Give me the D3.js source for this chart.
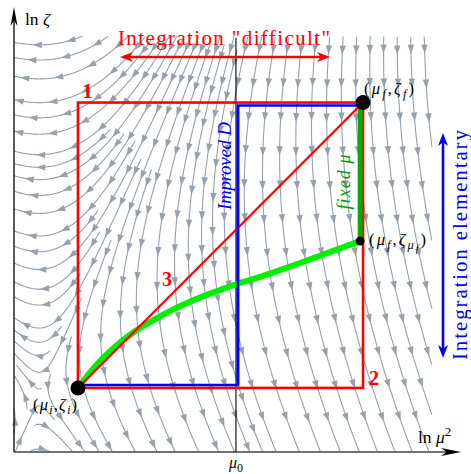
<!DOCTYPE html>
<html><head><meta charset="utf-8">
<script src="https://cdn.jsdelivr.net/npm/d3@7"></script>
<style>body{margin:0;background:#fff}svg{display:block}</style>
</head><body><svg id="c" width="471" height="474"></svg>
<script>
// ---------- data (plot units: x = ln μ², y = ln ζ) ----------
const xDomain = [0, 10];
const yDomain = [0, 10];
const muI = 1.53, zetaI = 1.54;          // (μi, ζi)
const muF = 8.35, zetaF = 8.40;          // (μf, ζf)
const muFixed = 8.28, zetaMuF = 5.07;    // (μf, ζμf)
const mu0 = 5.31;                        // μ0 tick
const greenX = [1.53, 1.82, 2.06, 2.30, 2.54, 2.89, 3.33, 3.73, 4.14, 4.57, 4.93, 5.31, 5.65, 6.24, 6.84, 7.56, 8.28];
const greenY = [1.54, 1.92, 2.19, 2.43, 2.64, 2.91, 3.17, 3.39, 3.58, 3.77, 3.89, 4.04, 4.13, 4.33, 4.54, 4.81, 5.07];
// vector field (γF/2 , −D) estimated from the stream picture
const fieldA = 0.33, fieldB = 0.73, fieldX0 = 0.6;
const regionNames = ["1", "2", "3"];
const regionAnchorX = [muI, muF, 3.66];
const regionAnchorY = [zetaF, zetaI, 4.0];
const xTickLabel = "μ0";

// ---------- setup ----------
const svg = d3.select("#c");
const x = d3.scaleLinear().domain(xDomain).range([14, 432]);
const y = d3.scaleLinear().domain(yDomain).range([452, 36]);
const SERIF = "'Liberation Serif','Times New Roman',serif";
const streamCol = "#95a1ad";

// ---------- streamlines ----------
const X0 = x.range()[0], X1 = x.range()[1], Y0 = y.range()[1], Y1 = y.range()[0];
const kx = x(1) - x(0), ky = y(1) - y(0);
function dir(px, py) {
  const X = x.invert(px), Y = y.invert(py);
  const vx = fieldA * (X - Y + fieldB) * kx;
  const vy = -(X - fieldX0) * ky;
  const m = Math.hypot(vx, vy);
  if (m < 1e-4) return null;
  return [vx / m, vy / m];
}
const dsep = 13.5, dtest = 6.5, h = 1;
const cols = Math.ceil((X1 - X0) / dsep) + 2, rows = Math.ceil((Y1 - Y0) / dsep) + 2;
const grid = Array.from({length: cols * rows}, () => []);
function cellOf(px, py) { return [Math.floor((px - X0) / dsep), Math.floor((py - Y0) / dsep)]; }
function free(px, py, d) {
  const [cx, cy] = cellOf(px, py);
  for (let i = cx - 1; i <= cx + 1; i++) for (let j = cy - 1; j <= cy + 1; j++) {
    if (i < 0 || j < 0 || i >= cols || j >= rows) continue;
    for (const p of grid[j * cols + i]) if (Math.hypot(p[0] - px, p[1] - py) < d) return false;
  }
  return true;
}
function inside(px, py) { return px >= X0 && px <= X1 && py >= Y0 && py <= Y1; }
function traceHalf(sx, sy, s) {
  const out = []; let p = [sx, sy];
  for (let k = 0; k < 3000; k++) {
    const k1 = dir(p[0], p[1]); if (!k1) break;
    const m = [p[0] + s * h / 2 * k1[0], p[1] + s * h / 2 * k1[1]];
    const k2 = dir(m[0], m[1]); if (!k2) break;
    const np = [p[0] + s * h * k2[0], p[1] + s * h * k2[1]];
    if (!inside(np[0], np[1])) break;
    if (!free(np[0], np[1], dtest)) break;
    out.push(np); p = np;
  }
  return out;
}
const lines = [];
const queue = [];
function tryLine(sx, sy, d) {
  if (!inside(sx, sy) || !free(sx, sy, d)) return;
  const f = traceHalf(sx, sy, 1), b = traceHalf(sx, sy, -1);
  const L = b.reverse().concat([[sx, sy]], f);
  if (L.length < 12) return;
  lines.push(L); queue.push(L);
  for (const p of L) { const [cx, cy] = cellOf(p[0], p[1]); grid[cy * cols + cx].push(p); }
}
tryLine(300, 220, dsep);
function drain() {
  while (queue.length) {
    const L = queue.shift();
    for (let i = 0; i < L.length; i += 3) {
      const a = L[Math.max(0, i - 1)], b = L[Math.min(L.length - 1, i + 1)];
      let tx = b[0] - a[0], ty = b[1] - a[1]; const m = Math.hypot(tx, ty) || 1; tx /= m; ty /= m;
      for (const s of [1, -1]) tryLine(L[i][0] - s * ty * dsep, L[i][1] + s * tx * dsep, dsep * 0.98);
    }
  }
}
drain();
for (let gy = Y0 + 3; gy < Y1; gy += dsep / 2) for (let gx = X0 + 3; gx < X1; gx += dsep / 2) { tryLine(gx, gy, dsep * 0.9); drain(); }

const gStream = svg.append("g");
gStream.selectAll("path.sl").data(lines).join("path")
  .attr("d", d3.line()).attr("fill", "none").attr("stroke", streamCol).attr("stroke-width", 1.1);
const arrows = [];
const spacing = 34;
lines.forEach(L => {
  let acc = 0, next = 17;
  for (let i = 1; i < L.length; i++) {
    acc += Math.hypot(L[i][0] - L[i-1][0], L[i][1] - L[i-1][1]);
    if (acc >= next) {
      const a = L[Math.max(0, i - 3)], b = L[i];
      let tx = b[0] - a[0], ty = b[1] - a[1]; const m = Math.hypot(tx, ty) || 1;
      arrows.push({p: b, t: [tx / m, ty / m]}); next += spacing;
    }
  }
});
gStream.selectAll("path.ah").data(arrows).join("path")
  .attr("fill", streamCol)
  .attr("d", d => {
    const [px, py] = d.p, [tx, ty] = d.t, L = 9, w = 3.2;
    const bx = px - tx * L, by = py - ty * L;
    return `M${px},${py}L${bx - ty * w},${by + tx * w}L${bx + ty * w},${by - tx * w}Z`;
  });

// ---------- axes ----------
function stealth(g, tipX, tipY, ang, L, w, col) {
  g.append("path").attr("fill", col)
    .attr("transform", `translate(${tipX},${tipY}) rotate(${ang})`)
    .attr("d", `M0,0L${-L},${-w}L${-L * 0.72},0L${-L},${w}Z`);
}
const gAx = svg.append("g");
gAx.append("line").attr("x1", x(0)).attr("y1", y(0)).attr("x2", 456).attr("y2", y(0)).attr("stroke", "#444").attr("stroke-width", 1.4);
stealth(gAx, 461, y(0), 0, 20, 4, "#000");
gAx.append("line").attr("x1", x(0)).attr("y1", y(0)).attr("x2", x(0)).attr("y2", 12).attr("stroke", "#000").attr("stroke-width", 1.3);
stealth(gAx, x(0), 7, -90, 19, 3.5, "#000");
gAx.append("line").attr("x1", x(mu0)).attr("x2", x(mu0)).attr("y1", y(0)).attr("y2", 38).attr("stroke", "#000").attr("stroke-width", 1.1);

// rich text helper: segs = [text, italic, level] (level 1 sub, 2 subsub, -1 sup)
function rich(g, segs, px, py, size, col, extra) {
  const t = g.append("text").attr("x", px).attr("y", py).attr("font-family", SERIF)
    .attr("font-size", size).attr("fill", col);
  if (extra) extra(t);
  let cur = 0;
  const offs = {0: 0, 1: size * 0.25, 2: size * 0.42, "-1": -size * 0.4};
  segs.forEach(s => {
    const lv = s[2] || 0, target = offs[lv];
    t.append("tspan").text(s[0]).attr("dy", target - cur)
      .attr("font-style", s[1] ? "italic" : "normal")
      .attr("font-size", lv === 0 ? size : size * (lv === 2 ? 0.6 : 0.75));
    cur = target;
  });
  return t;
}
rich(gAx, [["ln ", 0], ["ζ", 1]], 25, 25, 17.5, "#000");
rich(gAx, [["ln ", 0], ["μ", 1], ["2", 0, -1]], 418, 443, 17.5, "#000");
rich(gAx, [[xTickLabel[0], 1], [xTickLabel.slice(1), 0, 1]], x(mu0) - 7, 468, 16, "#000");

// ---------- paths ----------
const gP = svg.append("g");
gP.append("rect").attr("x", x(muI)).attr("y", y(zetaF)).attr("width", x(muF) - x(muI)).attr("height", y(zetaI) - y(zetaF))
  .attr("fill", "none").attr("stroke", "#ff0000").attr("stroke-width", 2.6);
const off = 3;
gP.append("path").attr("fill", "none").attr("stroke", "#0000ff").attr("stroke-width", 2.6)
  .attr("d", `M${x(muI)},${y(zetaI) - off}L${x(mu0) + 2},${y(zetaI) - off}L${x(mu0) + 2},${y(zetaF) + off}L${x(muF)},${y(zetaF) + off}`);
gP.append("line").attr("x1", x(muFixed)).attr("x2", x(muFixed)).attr("y1", y(zetaMuF)).attr("y2", y(zetaF))
  .attr("stroke", "#00b000").attr("stroke-width", 4.8);
const gpts = greenX.map((v, i) => [v, greenY[i]]);
gP.append("path").attr("fill", "none").attr("stroke", "#00f000").attr("stroke-width", 6).attr("stroke-linecap", "round")
  .attr("d", d3.line().x(d => x(d[0])).y(d => y(d[1])).curve(d3.curveBasis)(gpts));
gP.append("line").attr("x1", x(muI)).attr("y1", y(zetaI)).attr("x2", x(muF)).attr("y2", y(zetaF))
  .attr("stroke", "#ff0000").attr("stroke-width", 2.2);
gP.append("line").attr("x1", x(mu0) + 2).attr("x2", x(mu0) + 2).attr("y1", y(zetaI) - off).attr("y2", y(zetaF) + off)
  .attr("stroke", "#0000ff").attr("stroke-width", 2.6);
gP.append("circle").attr("cx", x(muI)).attr("cy", y(zetaI)).attr("r", 7.5).attr("fill", "#000");
gP.append("circle").attr("cx", x(muF)).attr("cy", y(zetaF)).attr("r", 7.5).attr("fill", "#000");
gP.append("circle").attr("cx", x(muFixed)).attr("cy", y(zetaMuF)).attr("r", 4.5).attr("fill", "#000");

// ---------- labels ----------
const gT = svg.append("g");
const regionDx = [9.5, 11, 0], regionDy = [-4.5, -3, 0];
regionNames.forEach((n, i) => {
  gT.append("text").text(n).attr("x", x(regionAnchorX[i]) + regionDx[i]).attr("y", y(regionAnchorY[i]) + regionDy[i])
    .attr("text-anchor", "middle").attr("font-family", SERIF).attr("font-weight", "bold")
    .attr("font-size", 20).attr("fill", "#ff0000");
});
rich(gT, [["(", 0], ["μ", 1], ["f", 1, 1], [",", 0], ["ζ", 1], ["f", 1, 1], [")", 0]], x(muF) + 1, y(zetaF) - 9, 16.5, "#000",
  t => t.attr("textLength", 50).attr("lengthAdjust", "spacing"));
rich(gT, [["(", 0], ["μ", 1], ["f", 1, 1], [",", 0], ["ζ", 1], ["μ", 1, 1], ["f", 1, 2], [")", 0]], x(muFixed) + 9, y(zetaMuF) + 4, 16.5, "#000",
  t => t.attr("textLength", 57).attr("lengthAdjust", "spacing"));
rich(gT, [["(", 0], ["μ", 1], ["i", 1, 1], [",", 0], ["ζ", 1], ["i", 1, 1], [")", 0]], 33, 410, 16.5, "#000",
  t => t.attr("textLength", 44).attr("lengthAdjust", "spacing"));

gT.append("text").text('Integration "difficult"').attr("x", 118).attr("y", 45)
  .attr("font-family", SERIF).attr("font-size", 21).attr("fill", "#ff0000")
  .attr("textLength", 212).attr("lengthAdjust", "spacing");
const ay = 57, ax1 = 120, ax2 = 330;
gT.append("line").attr("x1", ax1 + 8).attr("x2", ax2 - 8).attr("y1", ay).attr("y2", ay).attr("stroke", "#ff0000").attr("stroke-width", 2.6);
stealth(gT, ax2, ay, 0, 13, 5, "#ff0000");
stealth(gT, ax1, ay, 180, 13, 5, "#ff0000");
gT.append("text").text("Integration elementary")
  .attr("transform", "translate(467,245) rotate(-90)").attr("text-anchor", "middle")
  .attr("font-family", SERIF).attr("font-size", 21).attr("fill", "#0000ff")
  .attr("textLength", 230).attr("lengthAdjust", "spacing");
const bx = 443, by1 = 133, by2 = 358;
gT.append("line").attr("x1", bx).attr("x2", bx).attr("y1", by1 + 8).attr("y2", by2 - 8).attr("stroke", "#0000ff").attr("stroke-width", 2.6);
stealth(gT, bx, by1, -90, 13, 5, "#0000ff");
stealth(gT, bx, by2, 90, 13, 5, "#0000ff");
gT.append("text").text("Improved D")
  .attr("transform", `translate(${x(mu0) - 4.5},166) rotate(-90)`).attr("text-anchor", "middle")
  .attr("font-family", SERIF).attr("font-style", "italic").attr("font-size", 19).attr("fill", "#0000ff")
  .attr("textLength", 88).attr("lengthAdjust", "spacing");
gT.append("text").text("fixed μ")
  .attr("transform", `translate(${x(muFixed) - 10},182) rotate(-90)`).attr("text-anchor", "middle")
  .attr("font-family", SERIF).attr("font-style", "italic").attr("font-size", 18).attr("fill", "#00a000")
  .attr("textLength", 55).attr("lengthAdjust", "spacing");
</script>
</body></html>
